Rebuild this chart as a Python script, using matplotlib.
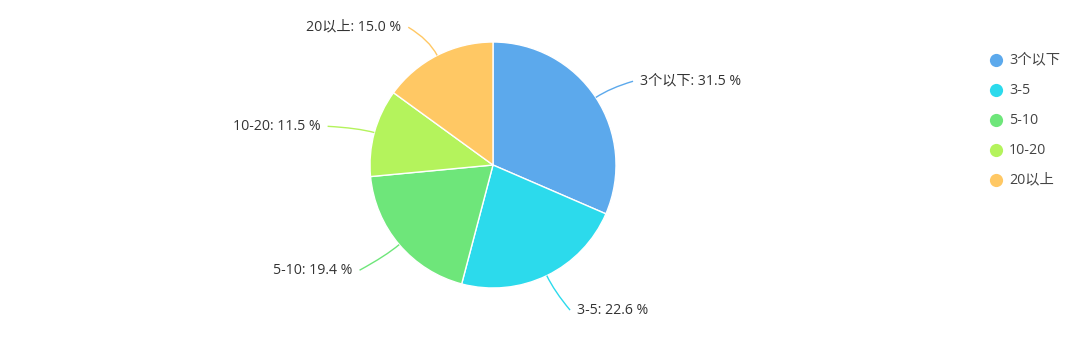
import matplotlib
matplotlib.use("Agg")
import matplotlib.pyplot as plt
import numpy as np
from matplotlib.path import Path
from matplotlib.patches import PathPatch

plt.rcParams['font.family'] = ['Open Sans', 'Noto Sans CJK SC']

categories = ['3个以下', '3-5', '5-10', '10-20', '20以上']
shares = [31.5, 22.6, 19.4, 11.5, 15.0]
colors = ['#5ca9ec', '#2cdaec', '#6ee67a', '#b4f35c', '#ffc864']

W, H = 1080, 338
cx, cy, R = 493, 165, 123   # pie centre / radius in pixels
dist = 35                   # label distance from edge

fig = plt.figure(figsize=(W / 100, H / 100), dpi=100)
ax = fig.add_axes([0, 0, 1, 1])

# y axis is inverted (pixel coords), so counterclock in data = clockwise on screen
wedges, _ = ax.pie(shares, colors=colors, center=(cx, cy), radius=R,
                   startangle=-90, counterclock=True,
                   wedgeprops=dict(edgecolor='white', linewidth=1))
ax.set_xlim(0, W)
ax.set_ylim(H, 0)
ax.set_aspect('equal')
ax.axis('off')

# labels with soft connectors
total = sum(shares)
cum = 0
for cat, val, col in zip(categories, shares, colors):
    phi = np.deg2rad((cum + val / 2) / total * 360)
    cum += val
    s, c = np.sin(phi), np.cos(phi)
    p0 = (cx + R * s, cy - R * c)
    p1 = (cx + (R + dist * 0.5) * s, cy - (R + dist * 0.5) * c)
    ly = cy - (R + dist) * c + 3
    right = s > 0
    lx = cx + (R + dist) * s + (15 if right else -20)
    end = (lx - 7, ly) if right else (lx + 7, ly)
    path = Path([p0, p1, end], [Path.MOVETO, Path.CURVE3, Path.CURVE3])
    ax.add_patch(PathPatch(path, fill=False, edgecolor=col, linewidth=1))
    ax.text(lx, ly, f'{cat}: {val:.1f} %', fontsize=10.2, color='#333333',
            ha='left' if right else 'right', va='center')

# legend
for i, (cat, col) in enumerate(zip(categories, colors)):
    y = 60 + i * 30
    ax.plot(996, y, 'o', color=col, markersize=9.5, markeredgewidth=0)
    ax.text(1009, y, cat, fontsize=10.3, color='#444444', va='center', ha='left')

fig.savefig('out.png', dpi=100)
